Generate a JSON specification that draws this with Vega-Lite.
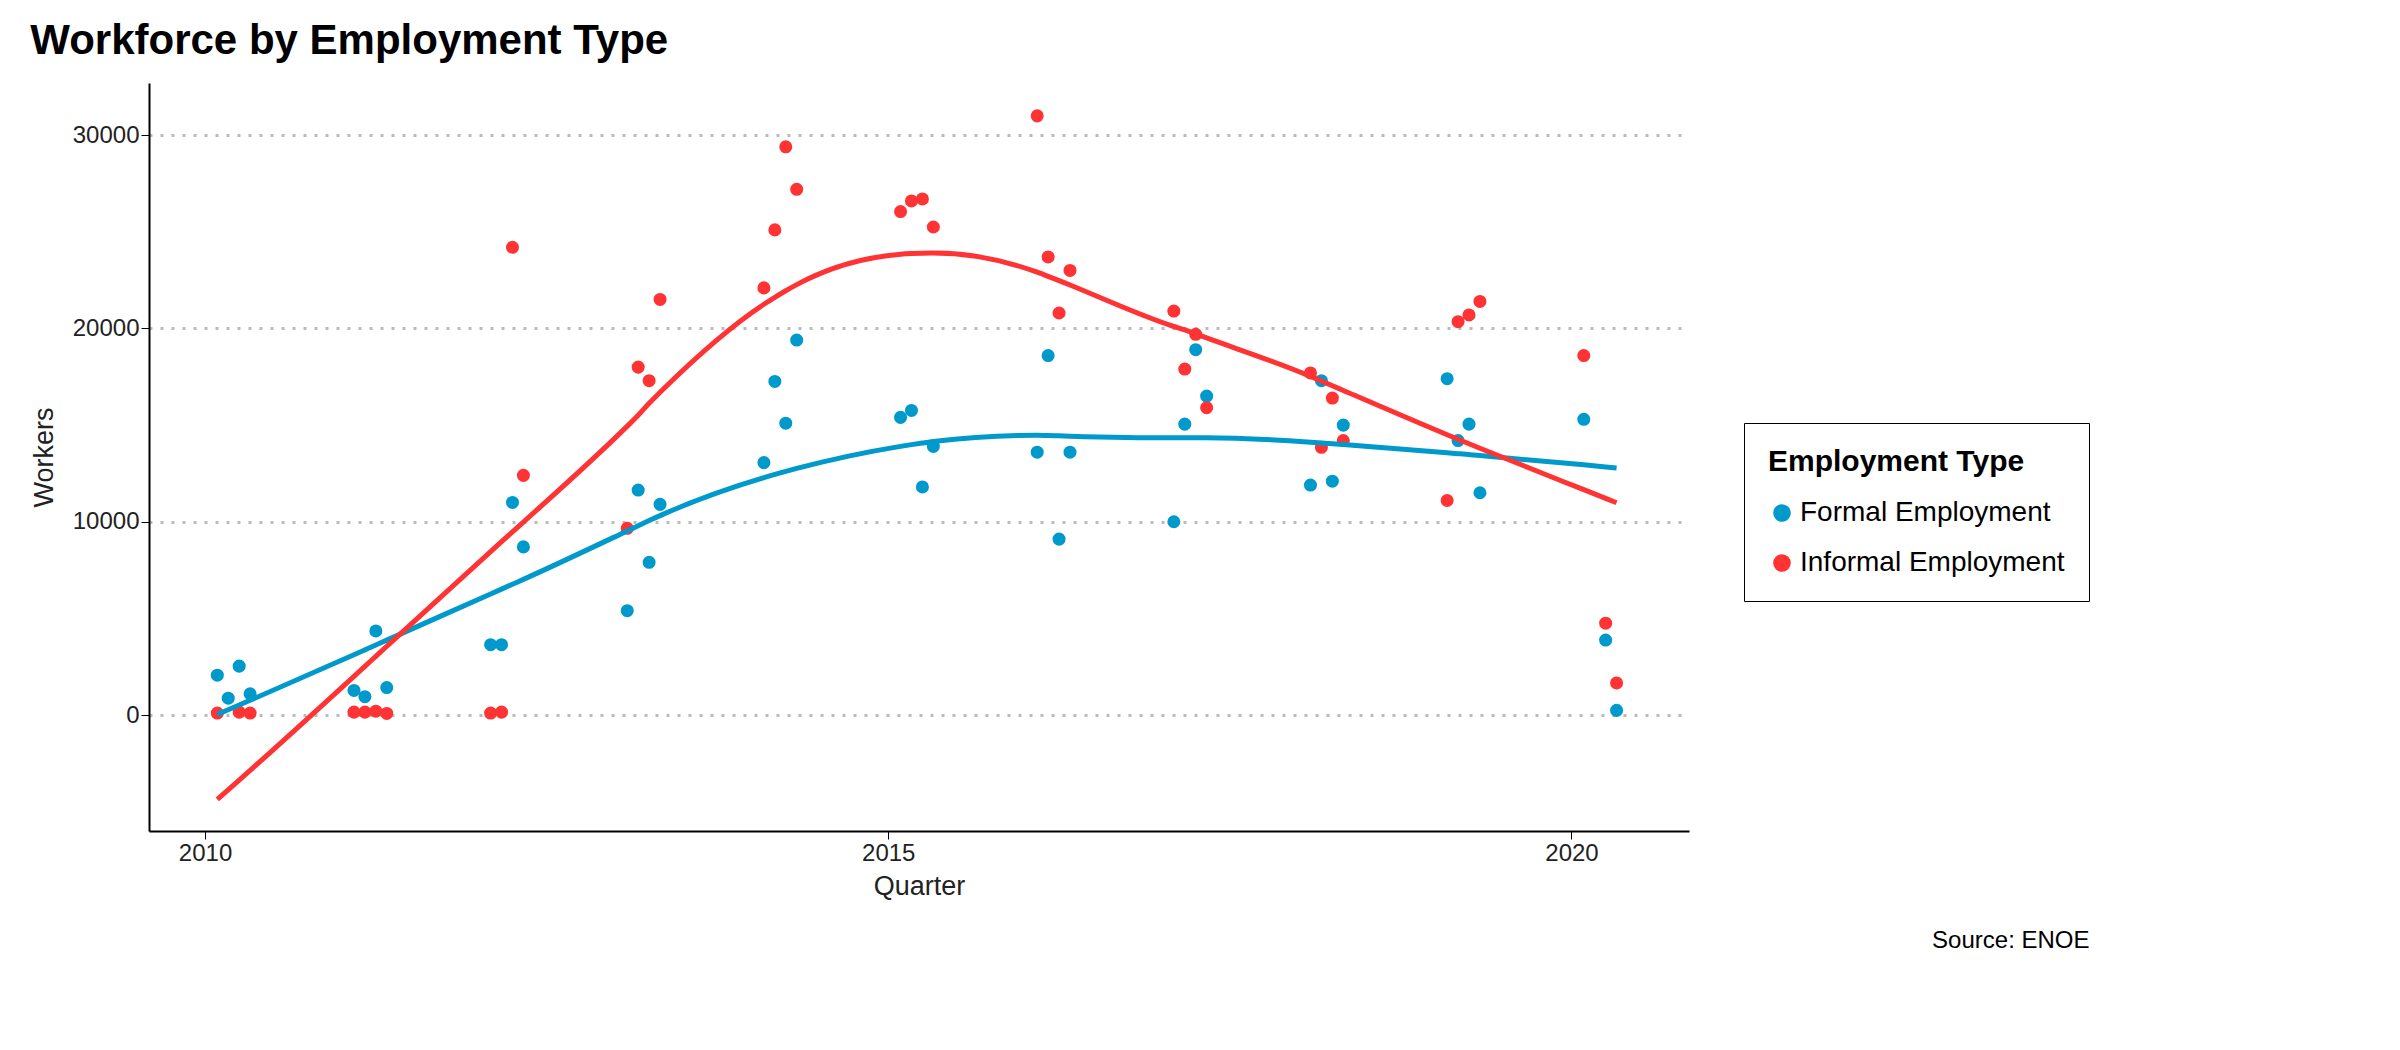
{
  "$schema": "https://vega.github.io/schema/vega-lite/v6.json",
  "background": "white",
  "padding": {"left": 30, "top": 20, "right": 30, "bottom": 20},
  "config": {
    "font": "Liberation Sans",
    "view": {"stroke": null},
    "axis": {"labelFontSize": 24, "titleFontSize": 27, "titleFontWeight": "normal", "labelColor": "#222", "titleColor": "#222", "domainColor": "black", "domainWidth": 2, "tickColor": "black"},
    "legend": {"labelFontSize": 28, "titleFontSize": 30, "titleFontWeight": "bold", "strokeColor": "black", "fillColor": "white", "padding": 24, "symbolSize": 260, "rowPadding": 22, "titlePadding": 22, "labelLimit": 0, "titleLimit": 0}
  },
  "title": {"text": "Source: ENOE", "orient": "bottom", "anchor": "end", "fontSize": 24, "fontWeight": "normal", "offset": 30},
  "vconcat": [
    {
      "title": {"text": "Workforce by Employment Type", "anchor": "start", "fontSize": 42, "fontWeight": "bold", "offset": 20},
      "width": 1540,
      "height": 748,
      "data": {"values": [
        {"q": 2010.09, "type": "Formal Employment", "w": 2060},
        {"q": 2010.17, "type": "Formal Employment", "w": 870},
        {"q": 2010.25, "type": "Formal Employment", "w": 2530},
        {"q": 2010.33, "type": "Formal Employment", "w": 1100},
        {"q": 2011.09, "type": "Formal Employment", "w": 1270},
        {"q": 2011.17, "type": "Formal Employment", "w": 950},
        {"q": 2011.25, "type": "Formal Employment", "w": 4350},
        {"q": 2011.33, "type": "Formal Employment", "w": 1420},
        {"q": 2012.09, "type": "Formal Employment", "w": 3640},
        {"q": 2012.17, "type": "Formal Employment", "w": 3640},
        {"q": 2012.25, "type": "Formal Employment", "w": 11000},
        {"q": 2012.33, "type": "Formal Employment", "w": 8700},
        {"q": 2013.09, "type": "Formal Employment", "w": 5400},
        {"q": 2013.17, "type": "Formal Employment", "w": 11640},
        {"q": 2013.25, "type": "Formal Employment", "w": 7900},
        {"q": 2013.33, "type": "Formal Employment", "w": 10900},
        {"q": 2014.09, "type": "Formal Employment", "w": 13060},
        {"q": 2014.17, "type": "Formal Employment", "w": 17260},
        {"q": 2014.25, "type": "Formal Employment", "w": 15100},
        {"q": 2014.33, "type": "Formal Employment", "w": 19400},
        {"q": 2015.09, "type": "Formal Employment", "w": 15400},
        {"q": 2015.17, "type": "Formal Employment", "w": 15760},
        {"q": 2015.25, "type": "Formal Employment", "w": 11800},
        {"q": 2015.33, "type": "Formal Employment", "w": 13900},
        {"q": 2016.09, "type": "Formal Employment", "w": 13600},
        {"q": 2016.17, "type": "Formal Employment", "w": 18600},
        {"q": 2016.25, "type": "Formal Employment", "w": 9100},
        {"q": 2016.33, "type": "Formal Employment", "w": 13600},
        {"q": 2017.09, "type": "Formal Employment", "w": 10000},
        {"q": 2017.17, "type": "Formal Employment", "w": 15050},
        {"q": 2017.25, "type": "Formal Employment", "w": 18900},
        {"q": 2017.33, "type": "Formal Employment", "w": 16500},
        {"q": 2018.09, "type": "Formal Employment", "w": 11900},
        {"q": 2018.17, "type": "Formal Employment", "w": 17300},
        {"q": 2018.25, "type": "Formal Employment", "w": 12100},
        {"q": 2018.33, "type": "Formal Employment", "w": 15000},
        {"q": 2019.09, "type": "Formal Employment", "w": 17400},
        {"q": 2019.17, "type": "Formal Employment", "w": 14200},
        {"q": 2019.25, "type": "Formal Employment", "w": 15050},
        {"q": 2019.33, "type": "Formal Employment", "w": 11500},
        {"q": 2020.09, "type": "Formal Employment", "w": 15300},
        {"q": 2020.25, "type": "Formal Employment", "w": 3880},
        {"q": 2020.33, "type": "Formal Employment", "w": 240},
        {"q": 2010.09, "type": "Informal Employment", "w": 100},
        {"q": 2010.25, "type": "Informal Employment", "w": 150},
        {"q": 2010.33, "type": "Informal Employment", "w": 100},
        {"q": 2011.09, "type": "Informal Employment", "w": 150},
        {"q": 2011.17, "type": "Informal Employment", "w": 150},
        {"q": 2011.25, "type": "Informal Employment", "w": 200},
        {"q": 2011.33, "type": "Informal Employment", "w": 80},
        {"q": 2012.09, "type": "Informal Employment", "w": 100},
        {"q": 2012.17, "type": "Informal Employment", "w": 150},
        {"q": 2012.25, "type": "Informal Employment", "w": 24200},
        {"q": 2012.33, "type": "Informal Employment", "w": 12400},
        {"q": 2013.09, "type": "Informal Employment", "w": 9660},
        {"q": 2013.17, "type": "Informal Employment", "w": 18000},
        {"q": 2013.25, "type": "Informal Employment", "w": 17300},
        {"q": 2013.33, "type": "Informal Employment", "w": 21500},
        {"q": 2014.09, "type": "Informal Employment", "w": 22100},
        {"q": 2014.17, "type": "Informal Employment", "w": 25100},
        {"q": 2014.25, "type": "Informal Employment", "w": 29400},
        {"q": 2014.33, "type": "Informal Employment", "w": 27200},
        {"q": 2015.09, "type": "Informal Employment", "w": 26050},
        {"q": 2015.17, "type": "Informal Employment", "w": 26600},
        {"q": 2015.25, "type": "Informal Employment", "w": 26700},
        {"q": 2015.33, "type": "Informal Employment", "w": 25250},
        {"q": 2016.09, "type": "Informal Employment", "w": 31000},
        {"q": 2016.17, "type": "Informal Employment", "w": 23700},
        {"q": 2016.25, "type": "Informal Employment", "w": 20800},
        {"q": 2016.33, "type": "Informal Employment", "w": 23000},
        {"q": 2017.09, "type": "Informal Employment", "w": 20900},
        {"q": 2017.17, "type": "Informal Employment", "w": 17900},
        {"q": 2017.25, "type": "Informal Employment", "w": 19700},
        {"q": 2017.33, "type": "Informal Employment", "w": 15900},
        {"q": 2018.09, "type": "Informal Employment", "w": 17700},
        {"q": 2018.17, "type": "Informal Employment", "w": 13850},
        {"q": 2018.25, "type": "Informal Employment", "w": 16400},
        {"q": 2018.33, "type": "Informal Employment", "w": 14200},
        {"q": 2019.09, "type": "Informal Employment", "w": 11100},
        {"q": 2019.17, "type": "Informal Employment", "w": 20350},
        {"q": 2019.25, "type": "Informal Employment", "w": 20700},
        {"q": 2019.33, "type": "Informal Employment", "w": 21400},
        {"q": 2020.09, "type": "Informal Employment", "w": 18600},
        {"q": 2020.25, "type": "Informal Employment", "w": 4750},
        {"q": 2020.33, "type": "Informal Employment", "w": 1660}
      ]},
      "encoding": {
        "x": {"field": "q", "type": "quantitative", "title": "Quarter", "scale": {"domain": [2009.59, 2020.86], "nice": false, "zero": false},
          "axis": {"values": [2010, 2015, 2020], "format": "d", "grid": false, "tickSize": 8, "titlePadding": 8}},
        "y": {"field": "w", "type": "quantitative", "title": "Workers", "scale": {"domain": [-6000, 32700], "nice": false},
          "axis": {"values": [0, 10000, 20000, 30000], "format": "d", "grid": true, "gridDash": [3, 8], "gridColor": "#bbb", "gridWidth": 3, "tickSize": 8, "titlePadding": 14}},
        "color": {"field": "type", "type": "nominal", "title": "Employment Type",
          "scale": {"domain": ["Formal Employment", "Informal Employment"], "range": ["#0099cc", "#ff3333"]},
          "legend": {"orient": "none", "legendX": 1595, "legendY": 340}}
      },
      "layer": [
        {"mark": {"type": "circle", "size": 170, "opacity": 1}},
        {
          "transform": [{"loess": "w", "on": "q", "groupby": ["type"], "bandwidth": 0.6}],
          "mark": {"type": "line", "strokeWidth": 5, "interpolate": "monotone"}
        },
        {
          "data": {"values": [{"yr": 2011, "label": "2011", "ly": 24800}]},
          "encoding": {},
          "layer": [
            {"mark": {"type": "rule", "strokeDash": [8, 6], "strokeWidth": 2.5, "color": "black"},
              "encoding": {"x": {"field": "yr", "type": "quantitative"}}},
            {"mark": {"type": "text", "fontSize": 32, "color": "#2e8b57", "align": "left", "dx": 28},
              "encoding": {"x": {"field": "yr", "type": "quantitative"}, "y": {"field": "ly", "type": "quantitative"}, "text": {"field": "label"}}}
          ]
        }
      ]
    }
  ]
}
